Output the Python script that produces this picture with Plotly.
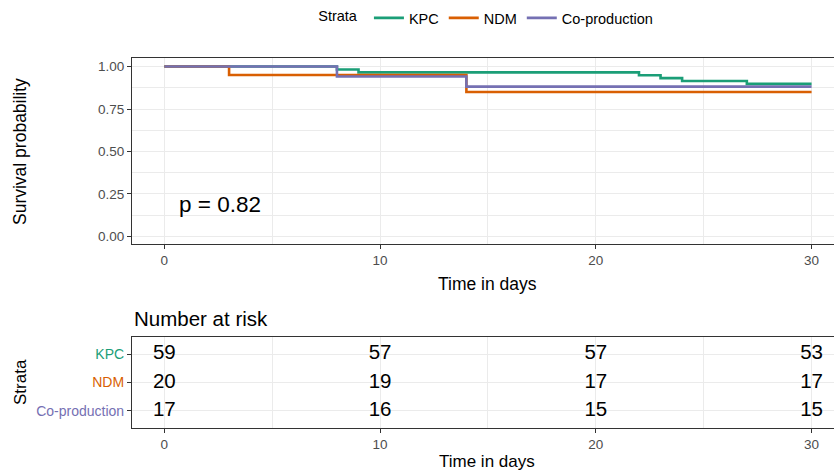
import plotly.graph_objects as go

# ---- data ----
strata = ["KPC", "NDM", "Co-production"]
colors = ["#1B9E77", "#D95F02", "#7570B3"]

kpc_time = [0, 8, 9, 22, 23, 24, 27, 30]
kpc_surv = [1.0, 0.983, 0.966, 0.949, 0.932, 0.915, 0.898, 0.898]
ndm_time = [0, 3, 14, 30]
ndm_surv = [1.0, 0.95, 0.85, 0.85]
co_time = [0, 8, 14, 30]
co_surv = [1.0, 0.941, 0.882, 0.882]

risk_times = [0, 10, 20, 30]
risk_kpc = [59, 57, 57, 53]
risk_ndm = [20, 19, 17, 17]
risk_co = [17, 16, 15, 15]

pval_text = "p = 0.82"

FONT = "Liberation Sans, Arial, sans-serif"
GRID = "#EBEBEB"
BORDER = "#333333"
TICKC = "#4D4D4D"

fig = go.Figure()

curves = [(kpc_time, kpc_surv), (ndm_time, ndm_surv), (co_time, co_surv)]
for name, col, (t, s) in zip(strata, colors, curves):
    fig.add_trace(go.Scatter(x=t, y=s, mode="lines", name=name,
                             line=dict(color=col, width=2.6, shape="hv"),
                             xaxis="x", yaxis="y"))

# risk table
rows = [3, 2, 1]
for r, vals in zip(rows, [risk_kpc, risk_ndm, risk_co]):
    fig.add_trace(go.Scatter(x=risk_times, y=[r] * len(risk_times), mode="text",
                             text=[str(v) for v in vals], textposition="middle center",
                             textfont=dict(size=20.5, color="black", family=FONT),
                             cliponaxis=False,
                             showlegend=False, xaxis="x2", yaxis="y2"))

xr = [-1.5, 31.04]
common_x = dict(range=xr, showgrid=True, gridcolor=GRID, gridwidth=1.1,
                tickvals=[0, 10, 20, 30], ticks="outside", ticklen=4, tickcolor=BORDER,
                tickfont=dict(size=13.5, color=TICKC, family=FONT),
                showline=True, linecolor=BORDER, linewidth=1.2, mirror=True,
                zeroline=False,
                minor=dict(tickvals=[5, 15, 25], showgrid=True, gridcolor=GRID, gridwidth=0.6))

fig.update_layout(
    width=834, height=472,
    margin=dict(l=132, r=0, t=0, b=0),
    paper_bgcolor="white", plot_bgcolor="white",
    font=dict(family=FONT),
    xaxis=dict(domain=[0, 1], anchor="y", **common_x),
    yaxis=dict(domain=[0.483, 0.877], anchor="x", range=[-0.045, 1.05],
               tickvals=[0, 0.25, 0.5, 0.75, 1.0],
               ticktext=["0.00", "0.25", "0.50", "0.75", "1.00"],
               ticks="outside", ticklen=4, tickcolor=BORDER,
               tickfont=dict(size=13.5, color=TICKC, family=FONT),
               showgrid=True, gridcolor=GRID, gridwidth=1.1, zeroline=False,
               showline=True, linecolor=BORDER, linewidth=1.2,
               minor=dict(tickvals=[0.125, 0.375, 0.625, 0.875], showgrid=True,
                          gridcolor=GRID, gridwidth=0.6)),
    xaxis2=dict(domain=[0, 1], anchor="y2", **common_x),
    yaxis2=dict(domain=[0.0932, 0.286], anchor="x2", range=[0.4, 3.6],
                tickvals=rows,
                ticktext=[f'<span style="color:{c}">{s}</span>' for s, c in zip(strata, colors)],
                ticks="outside", ticklen=4, tickcolor=BORDER,
                tickfont=dict(size=14, family=FONT),
                showgrid=True, gridcolor=GRID, gridwidth=1.1, zeroline=False,
                showline=True, linecolor=BORDER, linewidth=1.2),
    legend=dict(orientation="h", x=0.506, xanchor="center", y=0.962, yanchor="middle",
                title=dict(text="Strata ", font=dict(size=14.5, color="black", family=FONT)),
                font=dict(size=14.5, color="black", family=FONT),
                itemwidth=30, bgcolor="rgba(0,0,0,0)"),
    showlegend=True,
)

annots = [
    dict(text="Time in days", x=0.506, y=1 - 284 / 472, xref="paper", yref="paper",
         showarrow=False, font=dict(size=17.5, color="black"), xanchor="center", yanchor="middle"),
    dict(text="Time in days", x=0.506, y=1 - 461 / 472, xref="paper", yref="paper",
         showarrow=False, font=dict(size=17, color="black"), xanchor="center", yanchor="middle"),
    dict(text="Survival probability", x=(20 - 132) / 702, y=1 - 152 / 472, xref="paper", yref="paper",
         showarrow=False, textangle=-90, font=dict(size=17.5, color="black"),
         xanchor="center", yanchor="middle"),
    dict(text="Strata", x=(20 - 132) / 702, y=1 - 382 / 472, xref="paper", yref="paper",
         showarrow=False, textangle=-90, font=dict(size=17, color="black"),
         xanchor="center", yanchor="middle"),
    dict(text="Number at risk", x=0, y=1 - 318 / 472, xref="paper", yref="paper",
         showarrow=False, font=dict(size=20.5, color="black"), xanchor="left", yanchor="middle"),
    dict(text=pval_text, x=0.6, y=0.19, xref="x", yref="y",
         showarrow=False, font=dict(size=22.5, color="black"), xanchor="left", yanchor="middle"),
]
fig.update_layout(annotations=annots)

fig.write_html("out.html", config={"displayModeBar": False},
               post_script="document.body.style.margin='0';document.body.style.overflow='hidden';")
